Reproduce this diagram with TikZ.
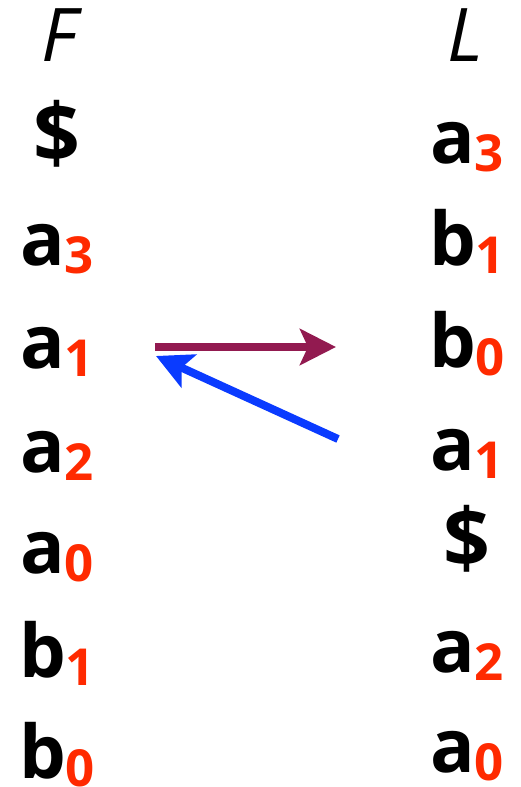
\documentclass[tikz,border=0pt]{standalone}
\usepackage{fontspec}
\setmainfont{Open Sans}
\usetikzlibrary{arrows.meta}
\definecolor{subred}{HTML}{FF2A00}
\definecolor{arrpurple}{HTML}{921A50}
\definecolor{arrblue}{HTML}{0A3BFF}
\newcommand{\symsub}[2]{#1\raisebox{-8pt}{\fontsize{51}{51}\selectfont\color{subred}#2}}
\newcommand{\dollarsym}{{\fontsize{82}{82}\selectfont\$}}
\begin{document}
\begin{tikzpicture}[x=1pt,y=-1pt,
  item/.style={anchor=base,inner sep=0pt,font=\fontsize{74}{74}\selectfont\bfseries},
  head/.style={anchor=base,inner sep=0pt,font=\fontsize{74}{74}\selectfont\itshape},
  bigarrow/.style={line width=8pt,-{Stealth[length=36pt,width=36pt,inset=8pt]}}]
\useasboundingbox (0,0) rectangle (520,787);
\node[head] (hF) at (59,61) {F};
\node[head] (hL) at (465,61) {L};
% left column F
\node[item] (l0) at (57,162) {\dollarsym};
\node[item] (l1) at (57,265) {\symsub{a}{3}};
\node[item] (l2) at (57,368) {\symsub{a}{1}};
\node[item] (l3) at (57,472) {\symsub{a}{2}};
\node[item] (l4) at (57,573) {\symsub{a}{0}};
\node[item] (l5) at (57,677) {\symsub{b}{1}};
\node[item] (l6) at (57,778) {\symsub{b}{0}};
% right column L
\node[item] (r0) at (467,163) {\symsub{a}{3}};
\node[item] (r1) at (467,265) {\symsub{b}{1}};
\node[item] (r2) at (467,367) {\symsub{b}{0}};
\node[item] (r3) at (467,470) {\symsub{a}{1}};
\node[item] (r4) at (467,567) {\dollarsym};
\node[item] (r5) at (467,672) {\symsub{a}{2}};
\node[item] (r6) at (467,772) {\symsub{a}{0}};
% arrows
\coordinate (ps) at (155,347);
\coordinate (pe) at (336,347);
\coordinate (bs) at (338,439);
\coordinate (be) at (156,356);
\draw[bigarrow,arrpurple] (ps) -- (pe);
\draw[bigarrow,arrblue] (bs) -- (be);
\end{tikzpicture}
\end{document}
